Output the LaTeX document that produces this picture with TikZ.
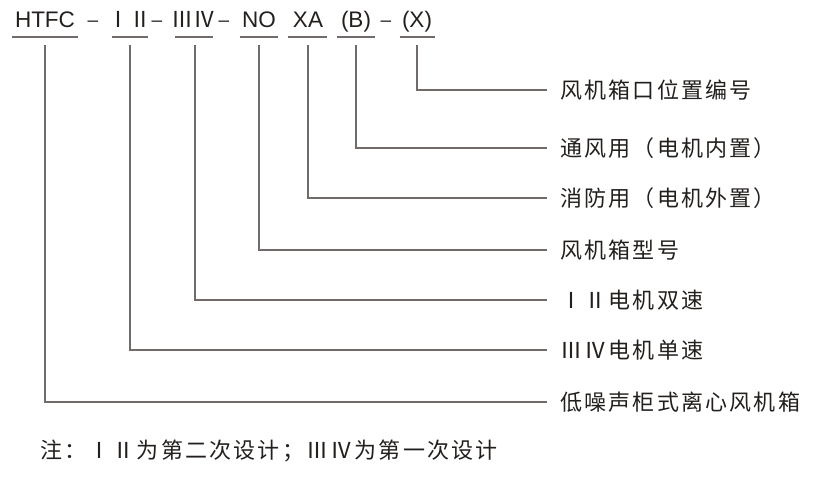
\documentclass[tikz,border=0pt]{standalone}
\usepackage{fontspec}
\setmainfont{Liberation Sans}
\newfontfamily\cjk{Noto Sans CJK SC}[LetterSpace=10]
\newfontfamily\cjkn{Noto Sans CJK SC}
\definecolor{txt}{HTML}{231F1C}
\definecolor{ln}{HTML}{716C6A}
\begin{document}
\begin{tikzpicture}[x=1pt,y=-1pt,
  code/.style={font=\fontsize{22.5}{22.5}\selectfont, text=txt, anchor=base, inner sep=0pt},
  dashc/.style={font=\fontsize{19}{19}\selectfont, text=txt, anchor=base, inner sep=0pt},
  coden/.style={font=\cjkn\fontsize{22}{22}\selectfont, text=txt, anchor=base, inner sep=0pt},
  lab/.style={font=\cjk\fontsize{22}{22}\selectfont, text=txt, anchor=west, inner ysep=0pt, inner xsep=13pt},
  conn/.style={draw=ln, line width=1.2pt},
  uline/.style={draw=ln, line width=1.2pt}]
\useasboundingbox (0,0) rectangle (820,481);

% top code row
\node[code]  (htfc) at (45,28)  {HTFC};
\node[dashc] (d1)   at (93,27)  {–};
\node[coden] (r12)  at (129,28) {ⅠⅡ};
\node[dashc] (d2)   at (157,27) {–};
\node[coden] (r34)  at (193,28) {ⅢⅣ};
\node[dashc] (d3)   at (224,27) {–};
\node[code]  (no)   at (259,28) {NO};
\node[code]  (xa)   at (308,28) {XA};
\node[code]  (b)    at (356,28) {(B)};
\node[dashc] (d4)   at (386,27) {–};
\node[code]  (x)    at (417,28) {(X)};

% underlines
\draw[uline] (12,37) -- (78,37);
\draw[uline] (112,37) -- (148,37);
\draw[uline] (175,37) -- (213,37);
\draw[uline] (240,37) -- (278,37);
\draw[uline] (288,37) -- (327,37);
\draw[uline] (337,37) -- (375,37);
\draw[uline] (400,37) -- (435,37);

% tick start points
\coordinate (t1) at (45,45);
\coordinate (t2) at (130,45);
\coordinate (t3) at (195,45);
\coordinate (t4) at (259,45);
\coordinate (t5) at (308,45);
\coordinate (t6) at (356,45);
\coordinate (t7) at (417,45);

% right labels
\node[lab] (l7) at (547,90)  {风机箱口位置编号};
\node[lab] (l6) at (547,148) {通风用（电机内置）};
\node[lab] (l5) at (547,198) {消防用（电机外置）};
\node[lab] (l4) at (547,250) {风机箱型号};
\node[lab] (l3) at (547,300) {ⅠⅡ电机双速};
\node[lab] (l2) at (547,350) {ⅢⅣ电机单速};
\node[lab] (l1) at (547,402) {低噪声柜式离心风机箱};

% connectors
\draw[conn] (t7) |- (l7.west);
\draw[conn] (t6) |- (l6.west);
\draw[conn] (t5) |- (l5.west);
\draw[conn] (t4) |- (l4.west);
\draw[conn] (t3) |- (l3.west);
\draw[conn] (t2) |- (l2.west);
\draw[conn] (t1) |- (l1.west);

% note
\node[lab, inner xsep=0pt] (note) at (40,451) {注：ⅠⅡ为第二次设计；ⅢⅣ为第一次设计};
\end{tikzpicture}
\end{document}
